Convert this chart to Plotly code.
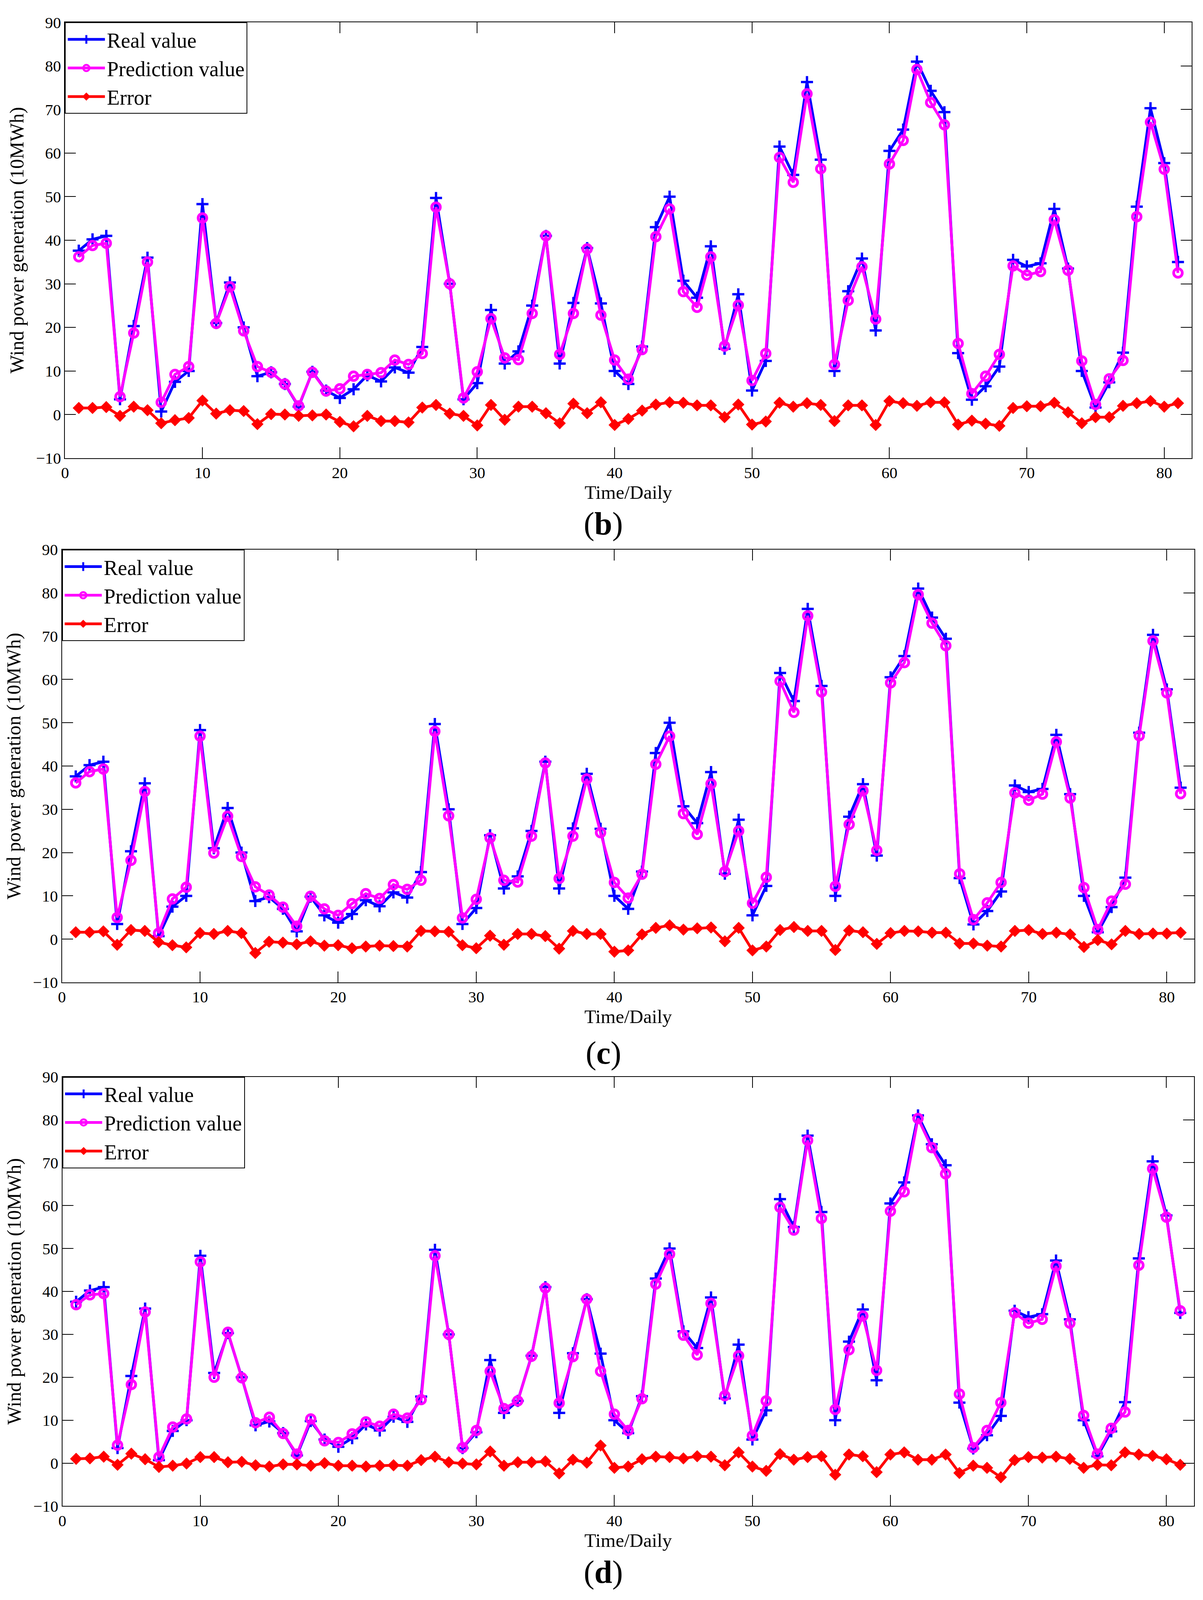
import plotly.graph_objects as go

days = list(range(1, 82))

real = [37.6, 40.2, 41.0, 3.5, 20.3, 36.0, 0.7, 7.5, 10.0, 48.3,
        21.0, 30.3, 20.0, 8.8, 9.7, 7.0, 1.8, 9.8, 5.5, 3.8,
        5.8, 9.0, 7.6, 10.8, 9.6, 15.5, 49.7, 30.0, 3.5, 7.2,
        24.0, 11.7, 14.5, 25.0, 41.0, 11.7, 25.6, 38.2, 25.5, 10.0,
        7.0, 15.6, 43.0, 50.0, 30.7, 26.8, 38.6, 15.1, 27.6, 5.5,
        12.3, 61.5, 55.0, 76.3, 58.5, 10.0, 28.3, 35.8, 19.3, 60.5,
        65.4, 81.0, 74.3, 69.4, 14.1, 3.4, 6.5, 11.0, 35.5, 34.0,
        34.7, 47.2, 33.5, 10.0, 1.6, 7.4, 14.2, 47.7, 70.3, 57.7, 35.0]

pred_b = [36.2, 38.8, 39.3, 4.1, 18.7, 35.0, 2.8, 9.2, 11.0, 45.1,
          20.9, 29.3, 19.2, 11.0, 9.7, 7.0, 2.0, 9.7, 5.4, 5.9,
          8.8, 9.2, 9.6, 12.5, 11.5, 14.0, 47.6, 30.0, 3.8, 9.8,
          22.0, 13.0, 12.6, 23.2, 41.0, 13.8, 23.2, 38.0, 22.8, 12.5,
          8.1, 14.9, 40.8, 47.2, 28.2, 24.6, 36.2, 15.7, 25.1, 7.8,
          14.0, 59.0, 53.3, 73.6, 56.4, 11.5, 26.2, 33.9, 21.9, 57.5,
          62.9, 79.2, 71.6, 66.5, 16.3, 4.8, 8.8, 13.8, 34.1, 32.0,
          32.8, 44.7, 33.1, 12.3, 2.3, 8.2, 12.4, 45.4, 67.1, 56.3, 32.5]

err_b = [1.5, 1.5, 1.7, -0.3, 1.8, 1.0, -2.0, -1.3, -0.8, 3.2,
         0.2, 1.0, 0.8, -2.2, 0.1, 0.0, -0.3, -0.2, 0.0, -1.7,
         -2.7, -0.3, -1.5, -1.5, -1.8, 1.6, 2.2, 0.2, -0.3, -2.5,
         2.2, -1.2, 1.8, 1.8, 0.3, -2.0, 2.5, 0.3, 2.8, -2.4,
         -1.0, 0.9, 2.3, 2.8, 2.7, 2.1, 2.1, -0.6, 2.3, -2.3,
         -1.6, 2.7, 1.8, 2.6, 2.2, -1.5, 2.1, 2.1, -2.4, 3.1,
         2.6, 2.0, 2.8, 2.8, -2.3, -1.4, -2.1, -2.6, 1.5, 1.9,
         1.9, 2.7, 0.5, -2.0, -0.6, -0.6, 2.0, 2.6, 3.1, 1.8, 2.6]

pred_c = [36.1, 38.7, 39.3, 5.0, 18.2, 34.1, 1.4, 9.3, 12.0, 46.9,
          19.9, 28.4, 19.1, 12.1, 10.2, 7.4, 3.0, 9.9, 7.0, 5.5,
          8.2, 10.5, 9.4, 12.6, 11.5, 13.6, 48.0, 28.5, 4.9, 9.2,
          23.4, 13.6, 13.2, 23.8, 40.7, 14.0, 23.8, 37.0, 24.6, 13.1,
          9.5, 15.0, 40.4, 46.9, 29.0, 24.2, 35.9, 15.6, 25.0, 8.3,
          14.3, 59.6, 52.4, 74.7, 57.1, 12.2, 26.5, 34.3, 20.5, 59.2,
          63.9, 79.6, 73.0, 67.8, 15.1, 4.5, 8.4, 13.1, 33.8, 32.1,
          33.5, 45.6, 32.6, 11.9, 2.2, 8.8, 12.7, 47.0, 68.9, 56.9, 33.6]

err_c = [1.6, 1.6, 1.8, -1.3, 2.1, 1.9, -0.7, -1.4, -1.9, 1.4,
         1.2, 1.9, 1.4, -3.2, -0.6, -0.8, -1.2, -0.5, -1.5, -1.4,
         -2.1, -1.7, -1.5, -1.6, -1.7, 1.9, 1.8, 1.7, -1.4, -2.1,
         0.8, -1.3, 1.2, 1.2, 0.7, -2.2, 1.9, 1.2, 1.2, -2.9,
         -2.6, 1.1, 2.6, 3.2, 2.2, 2.5, 2.7, -0.5, 2.6, -2.6,
         -1.7, 2.1, 2.8, 1.9, 1.9, -2.5, 2.0, 1.6, -1.1, 1.4,
         1.9, 1.8, 1.5, 1.5, -1.0, -1.0, -1.5, -1.7, 1.9, 2.1,
         1.2, 1.5, 1.1, -1.8, -0.2, -1.2, 1.9, 1.2, 1.3, 1.3, 1.5]

pred_d = [36.9, 39.2, 39.5, 4.2, 18.3, 35.2, 1.4, 8.4, 10.3, 46.9,
          20.0, 30.5, 19.9, 9.4, 10.7, 6.9, 2.1, 10.3, 5.2, 4.8,
          6.8, 9.6, 8.6, 11.4, 10.5, 14.8, 48.3, 30.0, 3.6, 7.6,
          21.4, 12.7, 14.5, 24.9, 40.8, 14.0, 24.8, 38.2, 21.4, 11.4,
          7.6, 15.0, 41.7, 48.7, 29.8, 25.2, 37.2, 15.7, 25.0, 6.4,
          14.5, 59.6, 54.3, 75.2, 57.0, 12.5, 26.4, 34.3, 21.6, 58.7,
          63.2, 80.3, 73.5, 67.4, 16.1, 3.6, 7.6, 14.1, 35.0, 32.6,
          33.5, 45.9, 32.6, 11.1, 2.1, 8.1, 11.9, 46.1, 68.6, 57.3, 35.5]

err_d = [1.0, 1.1, 1.5, -0.4, 2.2, 0.9, -0.9, -0.6, -0.1, 1.4,
         1.4, 0.2, 0.3, -0.5, -0.8, -0.3, -0.3, -0.6, 0.0, -0.6,
         -0.6, -0.8, -0.6, -0.5, -0.6, 0.7, 1.5, 0.2, -0.1, -0.3,
         2.7, -0.6, 0.2, 0.2, 0.4, -2.4, 0.8, 0.1, 4.1, -1.1,
         -0.8, 0.9, 1.5, 1.4, 1.1, 1.6, 1.5, -0.5, 2.5, -0.8,
         -1.8, 2.1, 0.8, 1.4, 1.6, -2.7, 2.0, 1.6, -2.1, 2.0,
         2.5, 0.8, 0.8, 2.0, -2.3, -0.6, -1.1, -3.3, 0.7, 1.4,
         1.3, 1.5, 1.0, -1.1, -0.4, -0.5, 2.5, 2.0, 1.7, 0.9, -0.4]

panel_labels = ["b", "c", "d"]
pred_series = [pred_b, pred_c, pred_d]
err_series = [err_b, err_c, err_d]
series_names = ["Real value", "Prediction value", "Error"]
x_ticks = [0, 10, 20, 30, 40, 50, 60, 70, 80]
y_ticks = [-10, 0, 10, 20, 30, 40, 50, 60, 70, 80, 90]

# reference canvas (pixels) used for relative placement
RW, RH = 3079, 4375
# the page viewport is 3079 x 4096
W, H = 3079, 4096
FONT = "Liberation Serif, Times New Roman, serif"

# plot-area boxes in reference pixels (left, right, top, bottom)
boxes = [(157, 3050, 37, 1242), (149, 3057, 1495, 2692), (150, 3056, 2953, 4140)]
label_pos = [(1539, 1423), (1539, 2887), (1539, 4323)]

fig = go.Figure()
layout = dict(width=W, height=H, margin=dict(l=0, r=0, t=0, b=0),
              paper_bgcolor="white", plot_bgcolor="white", showlegend=True,
              font=dict(family=FONT, color="black"))
annotations = []

for i in range(3):
    k = "" if i == 0 else str(i + 1)
    xa, ya = "x" + k, "y" + k
    leg = "legend" + k
    pred, err = pred_series[i], err_series[i]
    fig.add_trace(go.Scatter(x=days, y=real, name=series_names[0], xaxis=xa, yaxis=ya,
                             mode="lines+markers", legend=leg, legendgroup="r" + k,
                             line=dict(color="#0000FF", width=7),
                             marker=dict(symbol="cross-thin", size=22,
                                         line=dict(color="#0000FF", width=6))))
    fig.add_trace(go.Scatter(x=days, y=pred, name=series_names[1], xaxis=xa, yaxis=ya,
                             mode="lines+markers", legend=leg, legendgroup="p" + k,
                             line=dict(color="#FF00FF", width=7),
                             marker=dict(symbol="circle-open", size=22,
                                         line=dict(color="#FF00FF", width=7))))
    fig.add_trace(go.Scatter(x=days, y=err, name=series_names[2], xaxis=xa, yaxis=ya,
                             mode="lines+markers", legend=leg, legendgroup="e" + k,
                             line=dict(color="#FF0000", width=7),
                             marker=dict(symbol="diamond", size=24, color="#FF0000")))
    l, r, t, b = boxes[i]
    xd = [l / RW, r / RW]
    yd = [1 - b / RH, 1 - t / RH]
    axis_common = dict(ticks="inside", ticklen=28, tickwidth=2, tickcolor="black",
                       showline=True, linecolor="black", linewidth=2, mirror="ticks",
                       showgrid=False, zeroline=False,
                       tickfont=dict(family=FONT, size=41, color="black"))
    layout["xaxis" + k] = dict(domain=xd, range=[0, 82], anchor=ya, tickvals=x_ticks,
                               title=dict(text="Time/Daily", standoff=4,
                                          font=dict(family=FONT, size=49, color="black")),
                               **axis_common)
    layout["yaxis" + k] = dict(domain=yd, range=[-10, 90], anchor=xa, tickvals=y_ticks,
                               title=dict(text="Wind power generation (10MWh)", standoff=16,
                                          font=dict(family=FONT, size=50, color="black")),
                               **axis_common)
    layout[leg] = dict(x=xd[0], y=yd[1], xanchor="left", yanchor="top",
                       xref="paper", yref="paper",
                       bgcolor="white", bordercolor="black", borderwidth=2,
                       font=dict(family=FONT, size=54, color="black"),
                       itemwidth=95, tracegroupgap=0)
    lx, ly = label_pos[i]
    annotations.append(dict(text="(<b>" + panel_labels[i] + "</b>)", x=lx / RW, y=1 - ly / RH,
                            xref="paper", yref="paper", showarrow=False,
                            xanchor="center", yanchor="middle",
                            font=dict(family=FONT, size=82, color="black")))

layout["annotations"] = annotations
fig.update_layout(**layout)
fig.write_html("out.html", config={"displayModeBar": False},
               post_script="document.body.style.margin='0px';document.documentElement.style.overflow='hidden';")
